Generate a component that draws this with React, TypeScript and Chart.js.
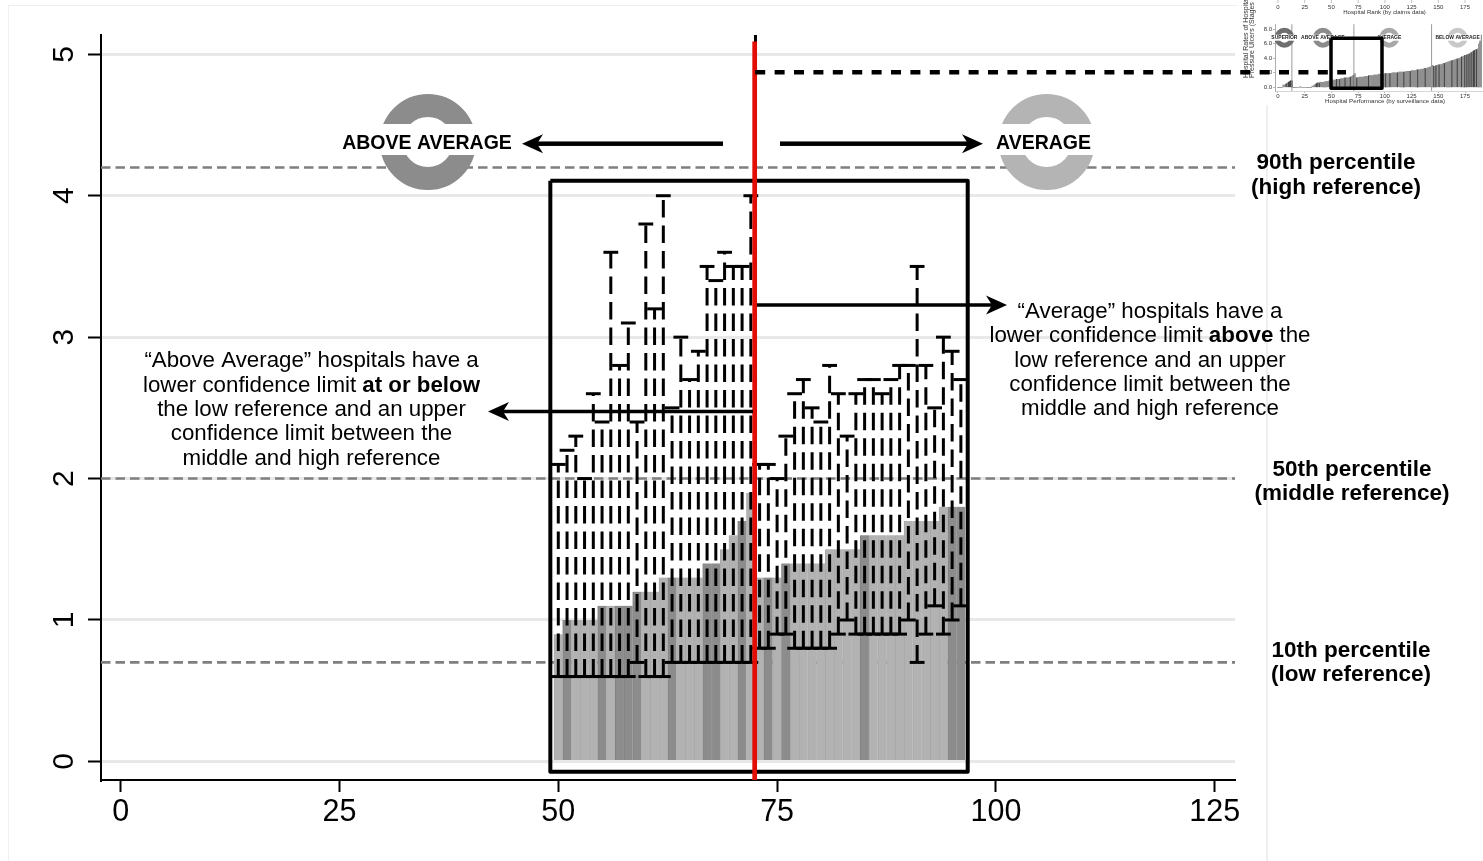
import React, { useEffect, useRef } from "react";
import { Chart, registerables } from "chart.js";

Chart.register(...registerables);

const FONT = '"Liberation Sans", Arial, sans-serif';

// Main panel: hospitals ranked 50-96
const ranks = [50,51,52,53,54,55,56,57,58,59,60,61,62,63,64,65,66,67,68,69,70,71,72,73,74,75,76,77,78,79,80,81,82,83,84,85,86,87,88,89,90,91,92,93,94,95,96];
const rates = [0.9,1,1,1,1,1.1,1.1,1.1,1.1,1.2,1.2,1.2,1.3,1.3,1.3,1.3,1.3,1.4,1.4,1.5,1.6,1.7,1.9,1.3,1.3,1.3,1.4,1.4,1.4,1.4,1.4,1.5,1.5,1.5,1.5,1.6,1.6,1.6,1.6,1.6,1.7,1.7,1.7,1.7,1.8,1.8,1.8];
const uppers = [2.1,2.2,2.3,2,2.6,2.4,3.6,2.8,3.1,2.4,3.8,3.2,4,2.5,3,2.7,2.9,3.5,3.4,3.6,3.5,3.5,4,2.1,2.1,2,2.3,2.6,2.7,2.5,2.4,2.8,2.6,2.3,2.6,2.7,2.7,2.6,2.7,2.8,2.8,3.5,2.8,2.5,3,2.9,2.7];
const lowers = [0.6,0.6,0.6,0.6,0.6,0.6,0.6,0.6,0.6,0.7,0.6,0.6,0.6,0.7,0.7,0.7,0.7,0.7,0.7,0.7,0.7,0.7,0.7,0.8,0.8,0.9,0.9,0.8,0.8,0.8,0.8,0.8,0.9,1,0.9,0.9,0.9,0.9,0.9,0.9,1,0.7,0.9,1.1,0.9,1,1.1];
const darkRanks = [51,55,57,58,59,63,67,68,71,74,76,85,95,96];
const referenceLevels = [4.2, 2, 0.7];
const xAxisTicks = [0, 25, 50, 75, 100, 125];
const yAxisTicks = [0, 1, 2, 3, 4, 5];
const ringXs = [35.1, 105.8];
const ringYs = [4.38, 4.38];
const ringColors = ["#8c8c8c", "#b4b4b4"];
const zoomBoxX = [49.09, 96.78, 96.78, 49.09, 49.09];
const zoomBoxY = [4.105, 4.105, -0.073, -0.073, 4.105];
const cutoffRank = 72.44;

const percentileLabels = [
  { lines: ["90th percentile", "(high reference)"], cx: 1336, cy: [163, 188] },
  { lines: ["50th percentile", "(middle reference)"], cx: 1352, cy: [470, 494] },
  { lines: ["10th percentile", "(low reference)"], cx: 1351, cy: [651, 675] },
];
const aboveNote: [string, boolean][][] = [
  [["\u201CAbove Average\u201D hospitals have a", false]],
  [["lower confidence limit ", false], ["at or below", true]],
  [["the low reference and an upper", false]],
  [["confidence limit between the", false]],
  [["middle and high reference", false]],
];
const averageNote: [string, boolean][][] = [
  [["\u201CAverage\u201D hospitals have a", false]],
  [["lower confidence limit ", false], ["above", true], [" the", false]],
  [["low reference and an upper", false]],
  [["confidence limit between the", false]],
  [["middle and high reference", false]],
];

// Inset thumbnail: all hospitals, rank 0-190
const insetHead = [0,0,0,0,0,0.3,0.3,0.4,0.5,0.6,0.7,0.8,0.9,0.9,0,0,0,0,0,0,0,0.1,0,0,0,0,0,0,0,0,0,0,0.1,0.2,0.3,0.4,0.5,0.6,0.6,0.6,0.7,0.7,0.7,0.7,0.8,0.8,0.8,0.8,0.9,0.9];
const insetTail = [1.8,1.8,1.8,1.9,1.9,1.9,1.9,1.9,1.9,1.9,2,2,2,2,2,2,2.1,2.1,2.1,2.1,2.1,2.1,2.1,2.2,2.2,2.2,2.2,2.2,2.3,2.3,2.3,2.3,2.3,2.4,2.4,2.4,2.4,2.5,2.5,2.5,2.6,2.6,2.6,2.7,2.7,2.8,2.8,3,3,2.9,2.9,3,3,3.1,3.1,3.1,3.2,3.2,3.3,3.3,3.4,3.4,3.5,3.5,3.6,3.6,3.7,3.7,3.8,3.8,3.9,3.9,4,4,4.1,4.2,4.2,4.3,4.4,4.4,4.5,4.5,4.6,4.7,4.8,4.9,5,5.1,5.2,5.2,5.3,6,6.8,7.2];
const insetDark = [8,10,11,12,13,36,37,39,55,58,63,68,71,74,85,101,105,112,118,124,131,138,146,148,151,156,163,168,172,175,177,179,181,183,184,186];
const insetDividers = [13, 71, 143.7];
const insetTicksX = [0, 25, 50, 75, 100, 125, 150, 175];
const insetRingX = [6, 42, 104, 168];
const insetRingColors = ["#6e6e6e", "#8c8c8c", "#a8a8a8", "#c8c8c8"];
const insetRingNames = ["SUPERIOR", "ABOVE AVERAGE", "AVERAGE", "BELOW AVERAGE"];

const black = "#000";

function arrow(ctx: CanvasRenderingContext2D, x0: number, x1: number, y: number, w: number) {
  const dir = x1 > x0 ? 1 : -1;
  ctx.fillStyle = black;
  ctx.fillRect(Math.min(x0, x1 - dir * 14), y - w / 2, Math.abs(x1 - dir * 14 - x0), w);
  ctx.beginPath();
  ctx.moveTo(x1, y);
  ctx.lineTo(x1 - dir * 21, y - 9.5);
  ctx.lineTo(x1 - dir * 15, y);
  ctx.lineTo(x1 - dir * 21, y + 9.5);
  ctx.closePath();
  ctx.fill();
}

function note(ctx: CanvasRenderingContext2D, lines: [string, boolean][][], cx: number, cys: number[], size: number) {
  ctx.fillStyle = black;
  ctx.textAlign = "left";
  ctx.textBaseline = "middle";
  lines.forEach((runs, i) => {
    let width = 0;
    runs.forEach(([t, b]) => {
      ctx.font = `${b ? "bold " : ""}${size}px ${FONT}`;
      width += ctx.measureText(t).width;
    });
    let x = cx - width / 2;
    runs.forEach(([t, b]) => {
      ctx.font = `${b ? "bold " : ""}${size}px ${FONT}`;
      ctx.fillText(t, x, cys[i]);
      x += ctx.measureText(t).width;
    });
  });
}

const pagePlugin = {
  id: "page",
  beforeDraw(chart: any) {
    const { ctx } = chart;
    ctx.save();
    ctx.fillStyle = "#efefef";
    ctx.fillRect(8, 5, 1, 856);
    ctx.fillRect(8, 5, 1230, 1);
    ctx.fillRect(1266, 105, 2, 756);
    ctx.restore();
  },
};

const annotationPlugin = {
  id: "annotations",
  afterDatasetsDraw(chart: any) {
    const { ctx } = chart;
    ctx.save();
    ctx.fillStyle = "#fff";
    ctx.fillRect(341, 124, 172, 31);
    ctx.fillRect(994, 124, 104, 31);
    ctx.fillStyle = black;
    ctx.textAlign = "center";
    ctx.textBaseline = "middle";
    ctx.font = `bold 19.5px ${FONT}`;
    ctx.fillText("ABOVE AVERAGE", 427, 143.3);
    ctx.fillText("AVERAGE", 1043.5, 143.3);
    arrow(ctx, 723, 522, 143.7, 4.5);
    arrow(ctx, 780, 983, 143.7, 4.5);
    arrow(ctx, 757, 1007, 305, 3.5);
    arrow(ctx, 753, 488, 411.5, 3.5);
    note(ctx, aboveNote, 311.5, [361, 385.5, 410, 434, 458.5], 22.3);
    note(ctx, averageNote, 1150, [311.5, 336, 360.5, 384.5, 409], 22.3);
    ctx.font = `bold 22.5px ${FONT}`;
    ctx.textAlign = "center";
    percentileLabels.forEach((p) => {
      p.lines.forEach((t, i) => ctx.fillText(t, p.cx, p.cy[i]));
    });
    ctx.restore();
  },
};

const insetPlugin = {
  id: "insetText",
  afterDatasetDraw(chart: any, args: any) {
    if (args.index !== 1) return;
    const { ctx, scales } = chart;
    ctx.save();
    ctx.textAlign = "center";
    ctx.textBaseline = "middle";
    insetRingNames.forEach((name, i) => {
      const cx = scales.x.getPixelForValue(insetRingX[i]);
      const cy = scales.y.getPixelForValue(6.84);
      ctx.font = `bold 5px ${FONT}`;
      const w = ctx.measureText(name).width;
      ctx.fillStyle = "#fff";
      ctx.fillRect(cx - w / 2 - 1, cy - 3, w + 2, 6);
      ctx.fillStyle = "#222";
      ctx.fillText(name, cx, cy);
    });
    ctx.restore();
  },
  afterDatasetsDraw(chart: any) {
    const { ctx, scales } = chart;
    ctx.save();
    ctx.textAlign = "center";
    ctx.textBaseline = "middle";
    ctx.fillStyle = "#333";
    ctx.strokeStyle = "#999";
    ctx.lineWidth = 0.6;
    ctx.font = `6px ${FONT}`;
    insetTicksX.forEach((v) => {
      const x = scales.x.getPixelForValue(v);
      ctx.fillText(String(v), x, 7);
      ctx.beginPath();
      ctx.moveTo(x, 0);
      ctx.lineTo(x, 3);
      ctx.stroke();
    });
    ctx.font = `6.1px ${FONT}`;
    ctx.fillText("Hospital Rank (by claims data)", 147.5, 12.5);
    ctx.font = `6.2px ${FONT}`;
    ctx.fillText("Hospital Performance (by surveillance data)", 148, 101);
    ctx.translate(0, 78);
    ctx.rotate(-Math.PI / 2);
    ctx.textAlign = "left";
    ctx.font = `7px ${FONT}`;
    ctx.fillText("Hospital Rates of Hospital", 0, 9);
    ctx.fillText("Pressure Ulcers (Stages II", 0, 15.5);
    ctx.restore();
  },
};

const fitY = (width: number) => (s: any) => {
  s.width = width;
  s.paddingTop = 0;
  s.paddingBottom = 0;
};
const fitX = (height: number) => (s: any) => {
  s.height = height;
  s.paddingLeft = 0;
  s.paddingRight = 0;
};

export default function App() {
  const mainRef = useRef<HTMLCanvasElement>(null);
  const insetRef = useRef<HTMLCanvasElement>(null);

  useEffect(() => {
    const whiskerData: any[] = [];
    ranks.forEach((r, i) => {
      whiskerData.push({ x: r, y: lowers[i] }, { x: r, y: uppers[i] }, { x: r, y: null });
    });
    const pair = (level: number) => [
      { x: -2.25, y: level },
      { x: 127.32, y: level },
    ];
    const main = new Chart(mainRef.current!, {
      type: "bar",
      data: {
        datasets: [
          {
            type: "line",
            data: [{ x: 72.5, y: 4.873 }, { x: 140, y: 4.873 }],
            borderColor: black,
            borderWidth: 4.5,
            borderDash: [10, 9.4],
            pointRadius: 0,
            clip: false,
          },
          {
            type: "line",
            data: [{ x: cutoffRank, y: 5.09 }, { x: cutoffRank, y: -0.131 }],
            borderColor: "#e00d00",
            borderWidth: 4.7,
            pointRadius: 0,
            clip: false,
          },
          {
            type: "line",
            data: [{ x: 72.53, y: 5.1365 }, { x: 72.53, y: 5 }],
            borderColor: black,
            borderWidth: 3,
            pointRadius: 0,
          },
          {
            type: "line",
            data: zoomBoxX.map((x, i) => ({ x, y: zoomBoxY[i] })),
            borderColor: black,
            borderWidth: 4,
            borderJoinStyle: "round",
            pointRadius: 0,
          },
          {
            type: "line",
            data: whiskerData,
            borderColor: black,
            borderWidth: 3,
            borderDash: [17.5, 8],
            spanGaps: false,
            pointStyle: "line",
            pointRadius: 7.4,
            pointBorderWidth: 3,
            pointBorderColor: black,
            pointBackgroundColor: black,
          },
          {
            type: "bar",
            data: ranks.map((r, i) => ({ x: r, y: rates[i] })),
            backgroundColor: ranks.map((r) => (darkRanks.includes(r) ? "#8c8c8c" : "#b2b2b2")),
            borderColor: ranks.map((r) => (darkRanks.includes(r) ? "#828282" : "#a8a8a8")),
            borderWidth: { left: 1, right: 0, top: 0, bottom: 0 },
            borderSkipped: false,
            barPercentage: 1,
            categoryPercentage: 1,
          },
          {
            type: "line",
            data: ringXs.map((x, i) => ({ x, y: ringYs[i] })),
            showLine: false,
            pointStyle: "circle",
            pointRadius: 36.5,
            pointBorderWidth: 23,
            pointBorderColor: ringColors,
            pointBackgroundColor: "#fff",
          },
          ...referenceLevels.map((level) => ({
            type: "line",
            data: pair(level),
            borderColor: "#7f7f7f",
            borderWidth: 2.6,
            borderDash: [9.5, 5],
            pointRadius: 0,
          })),
        ] as any,
      },
      options: {
        responsive: false,
        animation: false,
        devicePixelRatio: 1,
        layout: { autoPadding: false, padding: { left: 0, top: 35, right: 248, bottom: 0 } },
        plugins: { legend: { display: false }, tooltip: { enabled: false } },
        scales: {
          x: {
            type: "linear",
            offset: false,
            min: -2.25,
            max: 127.32,
            afterFit: fitX(81),
            afterBuildTicks: (s: any) => { s.ticks = xAxisTicks.map((value) => ({ value })); },
            grid: { offset: false, drawOnChartArea: false, drawTicks: true, tickLength: 12, tickColor: black, tickWidth: 2 },
            border: { color: black, width: 2 },
            ticks: { color: black, font: { family: FONT, size: 30.5 }, padding: 2.5, minRotation: 0, maxRotation: 0, autoSkip: false },
          },
          y: {
            type: "linear",
            min: -0.1315,
            max: 5.1365,
            afterFit: fitY(101),
            afterBuildTicks: (s: any) => { s.ticks = yAxisTicks.map((value) => ({ value })); },
            grid: { color: "#e8e8e8", lineWidth: 3, tickLength: 13, tickColor: black, tickWidth: 2 },
            border: { color: black, width: 2 },
            ticks: { color: black, font: { family: FONT, size: 30 }, padding: 15, minRotation: 90, maxRotation: 90, crossAlign: "center", autoSkip: false },
          },
        },
      } as any,
      plugins: [pagePlugin, annotationPlugin],
    });

    const insetValues = [...insetHead, ...rates, ...insetTail];
    const dividerData: any[] = [];
    insetDividers.forEach((x) => dividerData.push({ x, y: -0.5 }, { x, y: 8.7 }, { x, y: null }));
    const inset = new Chart(insetRef.current!, {
      type: "bar",
      data: {
        datasets: [
          {
            type: "line",
            data: [
              { x: 49.6, y: 6.76 }, { x: 97.3, y: 6.76 }, { x: 97.3, y: -0.14 },
              { x: 49.6, y: -0.14 }, { x: 49.6, y: 6.76 },
            ],
            borderColor: black,
            borderWidth: 3.5,
            borderJoinStyle: "round",
            pointRadius: 0,
          },
          {
            type: "line",
            data: insetRingX.map((x) => ({ x, y: 6.84 })),
            showLine: false,
            pointStyle: "circle",
            pointRadius: 7.5,
            pointBorderWidth: 5,
            pointBorderColor: insetRingColors,
            pointBackgroundColor: "#fff",
            clip: false,
          },
          {
            type: "line",
            data: dividerData,
            borderColor: "#9a9a9a",
            borderWidth: 1,
            pointRadius: 0,
          },
          {
            type: "bar",
            data: insetValues.map((y, x) => ({ x, y })),
            backgroundColor: insetValues.map((_, x) => (insetDark.includes(x) ? "#444" : "#909090")),
            barPercentage: 1,
            categoryPercentage: 1,
          },
        ] as any,
      },
      options: {
        responsive: false,
        animation: false,
        devicePixelRatio: 1,
        layout: { autoPadding: false, padding: { left: 0, top: 24, right: 0, bottom: 0 } },
        plugins: { legend: { display: false }, tooltip: { enabled: false } },
        scales: {
          x: {
            type: "linear",
            offset: false,
            min: -2.8,
            max: 191.8,
            afterFit: fitX(21),
            afterBuildTicks: (s: any) => { s.ticks = insetTicksX.map((value) => ({ value })); },
            grid: { offset: false, drawOnChartArea: false, tickLength: 2, tickColor: "#888", tickWidth: 0.6 },
            border: { color: "#bbb", width: 0.6 },
            ticks: { color: "#333", font: { family: FONT, size: 6 }, padding: 0, minRotation: 0, maxRotation: 0, autoSkip: false },
          },
          y: {
            type: "linear",
            min: -0.51,
            max: 8.73,
            afterFit: fitY(38),
            afterBuildTicks: (s: any) => { s.ticks = [0, 2, 4, 6, 8].map((value) => ({ value })); },
            grid: { drawOnChartArea: false, tickLength: 2, tickColor: "#888", tickWidth: 0.6 },
            border: { color: "#999", width: 0.8 },
            ticks: { color: "#333", font: { family: FONT, size: 6 }, padding: 1, callback: (v: any) => Number(v).toFixed(1), autoSkip: false },
          },
        },
      } as any,
      plugins: [insetPlugin],
    });
    return () => {
      main.destroy();
      inset.destroy();
    };
  }, []);

  return (
    <div style={{ position: "fixed", left: 0, top: 0, width: 1483, height: 861, background: "#fff", overflow: "hidden" }}>
      <canvas
        ref={insetRef}
        width={246}
        height={112}
        style={{ position: "absolute", left: 1237, top: 0, width: 246, height: 112, filter: "blur(0.7px)" }}
      />
      <canvas
        ref={mainRef}
        width={1483}
        height={861}
        style={{ position: "absolute", left: 0, top: 0, width: 1483, height: 861 }}
      />
    </div>
  );
}
